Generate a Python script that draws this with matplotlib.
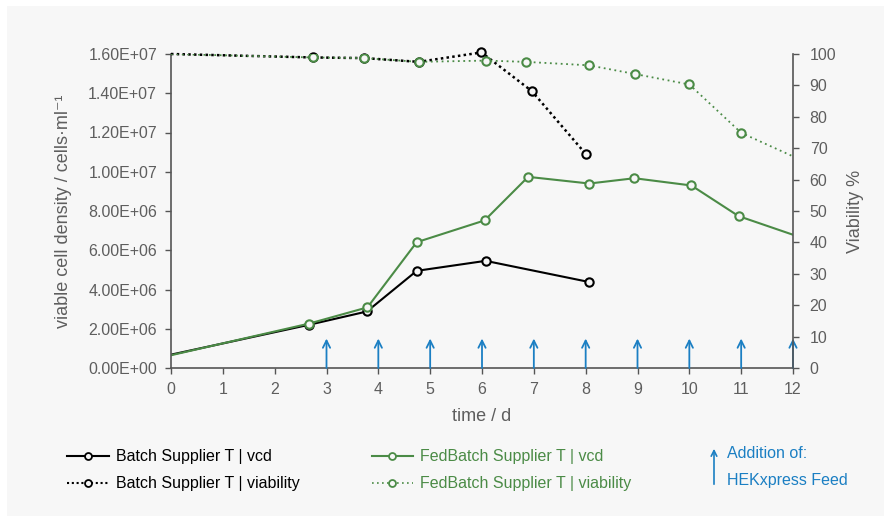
import matplotlib
matplotlib.use('Agg')
import matplotlib.pyplot as plt
from matplotlib.lines import Line2D
from matplotlib.patches import Rectangle, FancyArrowPatch

plt.rcParams['font.family'] = ['Liberation Sans', 'DejaVu Sans']

# batch culture
batch_t_vcd = [0, 2.66, 3.78, 4.74, 6.07, 8.07]
batch_vcd = [0.68e6, 2.20e6, 2.88e6, 4.95e6, 5.46e6, 4.38e6]
batch_t_via = [0, 2.73, 3.72, 4.78, 5.99, 6.96, 8.01]
batch_via = [100, 98.9, 98.7, 97.5, 100.5, 88.2, 68.0]

# fed-batch culture
fed_t_vcd = [0, 2.66, 3.79, 4.74, 6.05, 6.89, 8.07, 8.94, 10.04, 10.95, 12]
fed_vcd = [0.65e6, 2.26e6, 3.09e6, 6.41e6, 7.52e6, 9.74e6, 9.40e6, 9.67e6, 9.30e6, 7.74e6, 6.79e6]
fed_t_via = [0, 2.73, 3.72, 4.78, 6.08, 6.84, 8.06, 8.96, 10.0, 11.0, 12]
fed_via = [100, 98.9, 98.7, 97.5, 97.9, 97.5, 96.4, 93.6, 90.3, 74.9, 67.4]

feed_days = [3, 4, 5, 6, 7, 8, 9, 10, 11, 12]
arrow_top = 1.5e6

vcd_ticks = [0, 2e6, 4e6, 6e6, 8e6, 10e6, 12e6, 14e6, 16e6]
vcd_labels = ['0.00E+00', '2.00E+06', '4.00E+06', '6.00E+06', '8.00E+06',
              '1.00E+07', '1.20E+07', '1.40E+07', '1.60E+07']
via_ticks = [0, 10, 20, 30, 40, 50, 60, 70, 80, 90, 100]

green = '#4b8b46'
blue = '#1b7fc3'
bg = '#f7f7f7'
txt = '#5e5e5e'

fig = plt.figure(figsize=(8.91, 5.22), dpi=100)
fig.patches.append(Rectangle((7 / 891, 6 / 522), 877 / 891, 510 / 522,
                             transform=fig.transFigure, facecolor=bg,
                             edgecolor='none', zorder=-10))

ax = fig.add_axes([171 / 891, 1 - 368 / 522, 622 / 891, 314 / 522])
ax.set_facecolor('none')
ax2 = ax.twinx()

mk = dict(marker='o', markersize=6, markerfacecolor=bg, markeredgewidth=1.5)

ax.plot(batch_t_vcd, batch_vcd, color='black', lw=1.5, markevery=list(range(1, len(batch_t_vcd))), **mk)
ax.plot(fed_t_vcd, fed_vcd, color=green, lw=1.5, markevery=list(range(1, len(fed_t_vcd) - 1)),
        markeredgecolor=green, **mk)
ax2.plot(batch_t_via, batch_via, color='black', lw=1.8, ls=(0, (1, 1.3)),
         markevery=list(range(1, len(batch_t_via))), clip_on=False, **mk)
ax2.plot(fed_t_via, fed_via, color=green, lw=1.3, ls=(0, (1, 2)),
         markevery=list(range(1, len(fed_t_via) - 1)), markeredgecolor=green, **mk)

for d in feed_days:
    ax.annotate('', xy=(d, arrow_top), xytext=(d, 0),
                arrowprops=dict(arrowstyle='->', color=blue, lw=1.3,
                                shrinkA=0, shrinkB=0, mutation_scale=13))

ax.set_xlim(0, 12)
ax.set_ylim(0, 1.6e7)
ax2.set_ylim(0, 100)
ax.set_xticks(range(13))
ax.set_yticks(vcd_ticks)
ax.set_yticklabels(vcd_labels)
ax2.set_yticks(via_ticks)

for a in (ax, ax2):
    a.spines['top'].set_visible(False)
    for s in a.spines.values():
        s.set_color('#555555')
        s.set_linewidth(1.2)
    a.tick_params(colors='#555555', labelcolor=txt, labelsize=11.5, length=4, width=1)
ax.spines['right'].set_visible(False)
ax2.spines['left'].set_visible(False)
ax2.spines['bottom'].set_visible(False)
ax.tick_params(axis='y', pad=6)
ax2.tick_params(axis='y', pad=8)
ax.tick_params(axis='x', pad=6)

ax.set_xlabel('time / d', fontsize=13, color=txt, labelpad=8)
ax.set_ylabel('viable cell density / cells·ml⁻¹', fontsize=13, color=txt, labelpad=12)
ax2.set_ylabel('Viability %', fontsize=13, color=txt, labelpad=8)

hk = dict(marker='o', markersize=5, markerfacecolor=bg, markeredgewidth=1.3)
handles = [
    Line2D([], [], color='black', lw=1.5, **hk),
    Line2D([], [], color='black', lw=1.5, ls=(0, (1, 1.3)), **hk),
    Line2D([], [], color=green, lw=1.5, **hk),
    Line2D([], [], color=green, lw=1.2, ls=(0, (1, 2)), **hk),
]
labels = ['Batch Supplier T | vcd', 'Batch Supplier T | viability',
          'FedBatch Supplier T | vcd', 'FedBatch Supplier T | viability']
leg = fig.legend(handles, labels, ncol=2, loc='upper left', bbox_to_anchor=(53 / 891, 1 - 435 / 522),
                 frameon=False, fontsize=11.5, handlelength=2.6, handletextpad=0.45,
                 columnspacing=4.5, labelspacing=0.75)
for t, c in zip(leg.get_texts(), ['black', 'black', green, green]):
    t.set_color(c)

fig.add_artist(FancyArrowPatch(
    (714 / 891, 1 - 487 / 522), (714 / 891, 1 - 446 / 522), transform=fig.transFigure,
    arrowstyle='->', color=blue, lw=1.2, mutation_scale=10))
fig.text(727 / 891, 1 - 454 / 522, 'Addition of:', color=blue, fontsize=11.5, va='center')
fig.text(727 / 891, 1 - 481 / 522, 'HEKxpress Feed', color=blue, fontsize=11.5, va='center')

fig.savefig('out.png', dpi=100)
